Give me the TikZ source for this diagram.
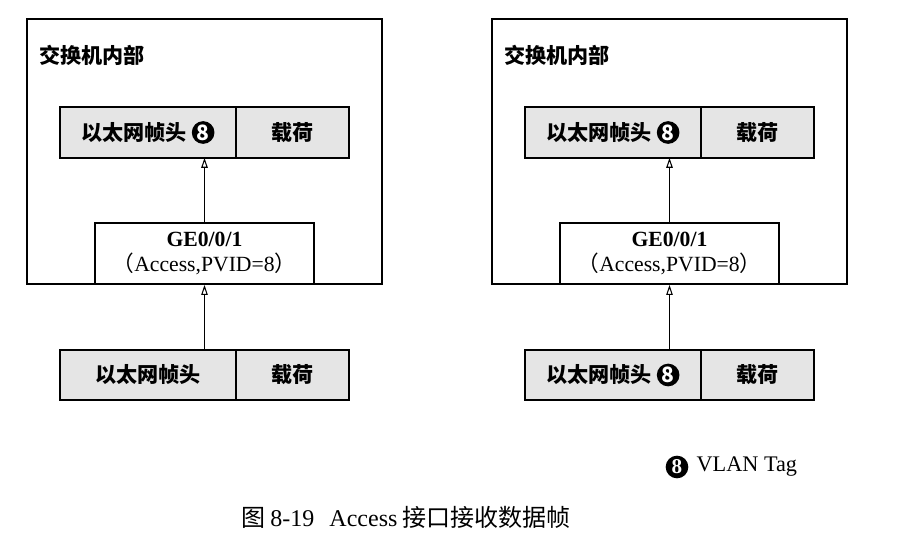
\documentclass[tikz,border=0pt]{standalone}
\usepackage{fontspec}
\setmainfont{Liberation Serif}
\newfontfamily\cjk{Noto Sans CJK SC}
\usetikzlibrary{arrows.meta, positioning}

% black disc with the VLAN number
\newcommand{\vtag}{\tikz[baseline=(v.base)]\node[circle, fill=black, text=white,
  inner sep=0pt, minimum size=0.68cm, font=\bfseries\fontsize{18}{18}\selectfont] (v) {8};}

\begin{document}
\begin{tikzpicture}[
  font=\fontsize{18.5}{22}\selectfont,
  swbox/.style={draw=black, line width=1.4pt, minimum width=10.65cm, minimum height=7.95cm},
  field/.style={draw=black, fill=black!10, line width=1.6pt, outer sep=0pt,
                minimum height=1.52cm, inner sep=2pt, font=\cjk\bfseries\fontsize{18}{22}\selectfont},
  portbox/.style={draw=black, fill=white, line width=1.6pt, minimum width=6.57cm,
                  minimum height=1.83cm, align=center, inner sep=2pt},
  fline/.style={draw=black, line width=0.7pt},
  farrow/.style={fline, -{Triangle[open, length=8.5pt, width=5.5pt, line width=0.9pt]}}
]

\useasboundingbox (0,0) rectangle (27.12,-16.62);

%--------------------------------------------------------------
% Due switch: senza tag (L) e con tag (R) in ingresso
%--------------------------------------------------------------
\foreach \s/\dx/\tagin in {L/0/{}, R/13.95/{\ \vtag}}{
  \node[swbox] (sw\s) at (6.135+\dx,-4.545) {};
  \node[anchor=west, font=\cjk\bfseries\fontsize{18}{22}\selectfont] (lab\s) at (1.05+\dx,-1.65) {交换机内部};

  % trama interna
  \node[field, minimum width=5.28cm, anchor=west] (hdrup\s) at (1.8+\dx,-3.975) {以太网帧头\ \vtag};
  \node[field, minimum width=3.39cm, anchor=west] (payup\s) at (hdrup\s.east) {载荷};

  % porta
  \node[portbox] (ge\s) at (6.135+\dx,-7.605)
    {\textbf{GE0/0/1}\\{\cjk （}Access,PVID=8{\cjk ）}};

  % trama in ingresso
  \node[field, minimum width=5.28cm, anchor=west] (hdrdn\s) at (1.8+\dx,-11.25) {以太网帧头\tagin};
  \node[field, minimum width=3.39cm, anchor=west] (paydn\s) at (hdrdn\s.east) {载荷};

  \draw[farrow] (ge\s.south |- hdrdn\s.north) -- (ge\s.south);
  \draw[farrow] (ge\s.north) -- (ge\s.north |- hdrup\s.south);
}

%--------------------------------------------------------------
% Legenda e didascalia
%--------------------------------------------------------------
\node[circle, fill=black, text=white, inner sep=0pt, minimum size=0.68cm,
      font=\bfseries\fontsize{18}{18}\selectfont] (tagkey) at (20.31,-14.01) {8};
\node[right=0.2cm of tagkey, inner sep=1pt, font=\fontsize{19}{22}\selectfont] (tagtxt) {VLAN Tag};

\node[font=\fontsize{20.5}{24}\selectfont] (caption) at (12.18,-15.51)
  {{\cjk 图}\hspace{0.15cm}8-19\hspace{0.45cm}Access\hspace{0.15cm}{\cjk 接口接收数据帧}};

\end{tikzpicture}
\end{document}
